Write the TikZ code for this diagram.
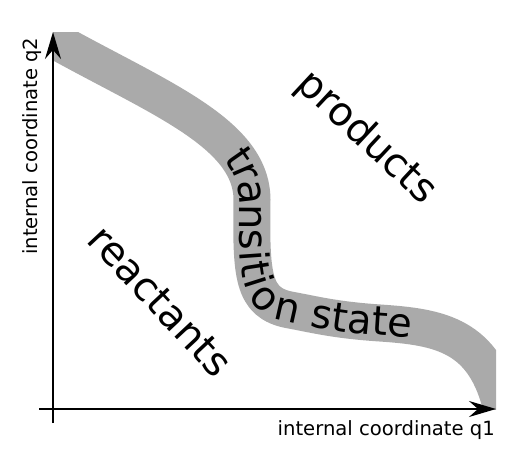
\documentclass[tikz,border=0pt]{standalone}
\usepackage{fontspec}
\setmainfont{DejaVu Sans}
\usetikzlibrary{arrows.meta,decorations.text}
\definecolor{bandgray}{HTML}{AAAAAA}

\begin{document}
\begin{tikzpicture}[x=1pt,y=-1pt,
    axis/.style={line width=1.8pt,-{Stealth[length=27pt,width=16pt,inset=9pt]}},
    region/.style={inner sep=0pt,font=\fontsize{40}{40}\selectfont},
    axislabel/.style={inner sep=0pt,font=\fontsize{19.6}{19.6}\selectfont}]
  \useasboundingbox (0,0) rectangle (531,461);
  \coordinate (q1 foot) at (39,409);
  \coordinate (q1 tip) at (496,409);
  \coordinate (q2 foot) at (53,423);
  \coordinate (q2 tip) at (53,32);
  % band of the transition state, cut at the axes
  \begin{scope}
    \clip (53,32) rectangle (496,409);
    \draw[bandgray,line width=37pt,
      postaction={decorate,decoration={text along path,text color=black,
        raise=-12.5pt,text align={left indent=229pt},
        text={|\fontsize{40}{40}\selectfont|transition state}}}]
      (40,32) .. controls (150,95) and (252,130) .. (252,200)
      .. controls (251,275) and (252,303) .. (290,310)
      .. controls (315,314.6) and (335,320) .. (380,323)
      .. controls (440,327) and (485,335) .. (502,410);
  \end{scope}
  \draw[axis] (q2 foot) -- (q2 tip);
  \draw[axis] (q1 foot) -- (q1 tip);
  \node[region,rotate=-43] (products) at (366,138) {products};
  \node[region,rotate=-47] (reactants) at (160,301) {reactants};
  \node[axislabel,anchor=base east] (q1 label) at (495,435) {internal coordinate q1};
  \node[axislabel,anchor=base west,rotate=90] (q2 label) at (37.5,255) {internal coordinate q2};
\end{tikzpicture}
\end{document}
